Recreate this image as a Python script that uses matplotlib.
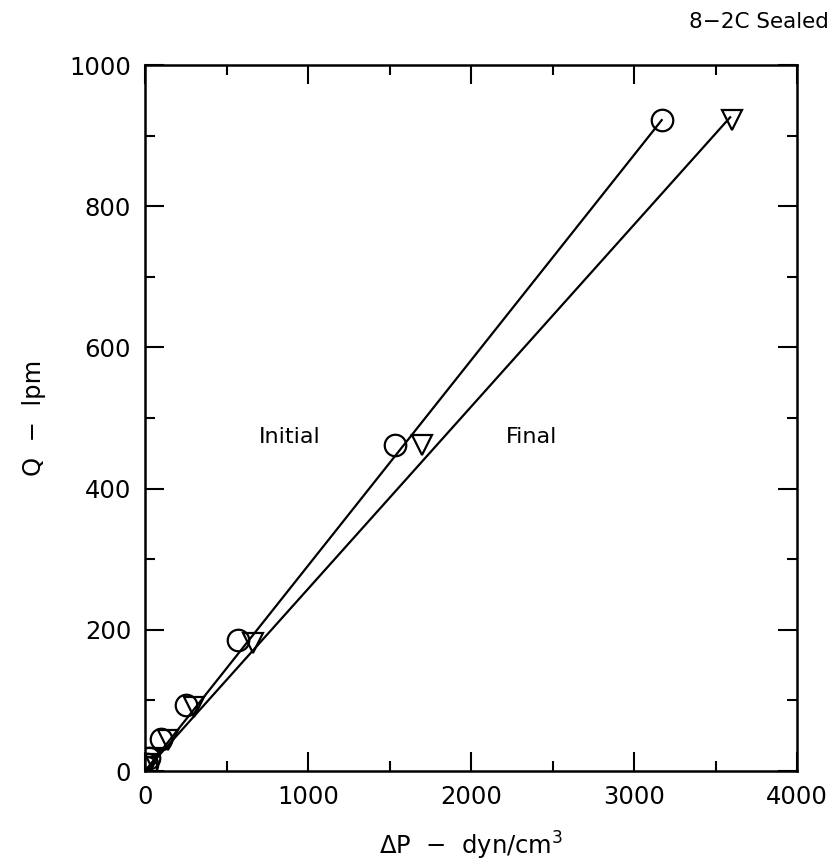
import matplotlib
matplotlib.use("Agg")
import matplotlib.pyplot as plt
from matplotlib.ticker import MultipleLocator

# Data
init_dp = [3, 10, 22, 100, 250, 570, 1535, 3170]
init_q = [5, 10, 18, 46, 93, 185, 462, 922]
final_dp = [6, 15, 40, 140, 300, 660, 1700, 3600]
final_q = [5, 10, 18, 44, 90, 182, 462, 922]

init_line_dp = [0, 3170]
init_line_q = [0, 922]
final_line_dp = [0, 3590]
final_line_q = [0, 926]

title = "8\u22122C Sealed"
xlabel = "\u0394P  \u2212  dyn/cm$^{3}$"
ylabel = "Q  \u2212  lpm"

plt.rcParams['font.family'] = ['DejaVu Sans']
fig = plt.figure(figsize=(8.35, 8.67), dpi=100)
ax = fig.add_axes([0.1737, 0.1107, 0.7808, 0.8143])

ax.plot(init_line_dp, init_line_q, color='black', lw=1.6)
ax.plot(final_line_dp, final_line_q, color='black', lw=1.6)
ax.plot(init_dp, init_q, linestyle='none', marker='o', ms=15.5, mfc='none',
        mec='black', mew=1.6)
ax.plot(final_dp, final_q, linestyle='none', marker='v', ms=14, mfc='none',
        mec='black', mew=1.6)

ax.text(890, 473, "Initial", fontsize=16, ha='center', va='center')
ax.text(2370, 473, "Final", fontsize=16, ha='center', va='center')

ax.set_xlim(0, 4000)
ax.set_ylim(0, 1000)
ax.xaxis.set_major_locator(MultipleLocator(1000))
ax.xaxis.set_minor_locator(MultipleLocator(500))
ax.yaxis.set_major_locator(MultipleLocator(200))
ax.yaxis.set_minor_locator(MultipleLocator(100))
ax.tick_params(which='both', direction='in', top=True, right=True,
               labelsize=17.5, width=1.5)
ax.tick_params(which='major', length=14, pad=10)
ax.tick_params(which='minor', length=7)
for s in ax.spines.values():
    s.set_linewidth(1.8)

ax.set_xlabel(xlabel, fontsize=17.5, labelpad=15)
ax.set_ylabel(ylabel, fontsize=17.5, labelpad=17)
fig.text(0.993, 0.975, title, fontsize=15.5, ha='right', va='center')

fig.savefig("out.png", dpi=100)
